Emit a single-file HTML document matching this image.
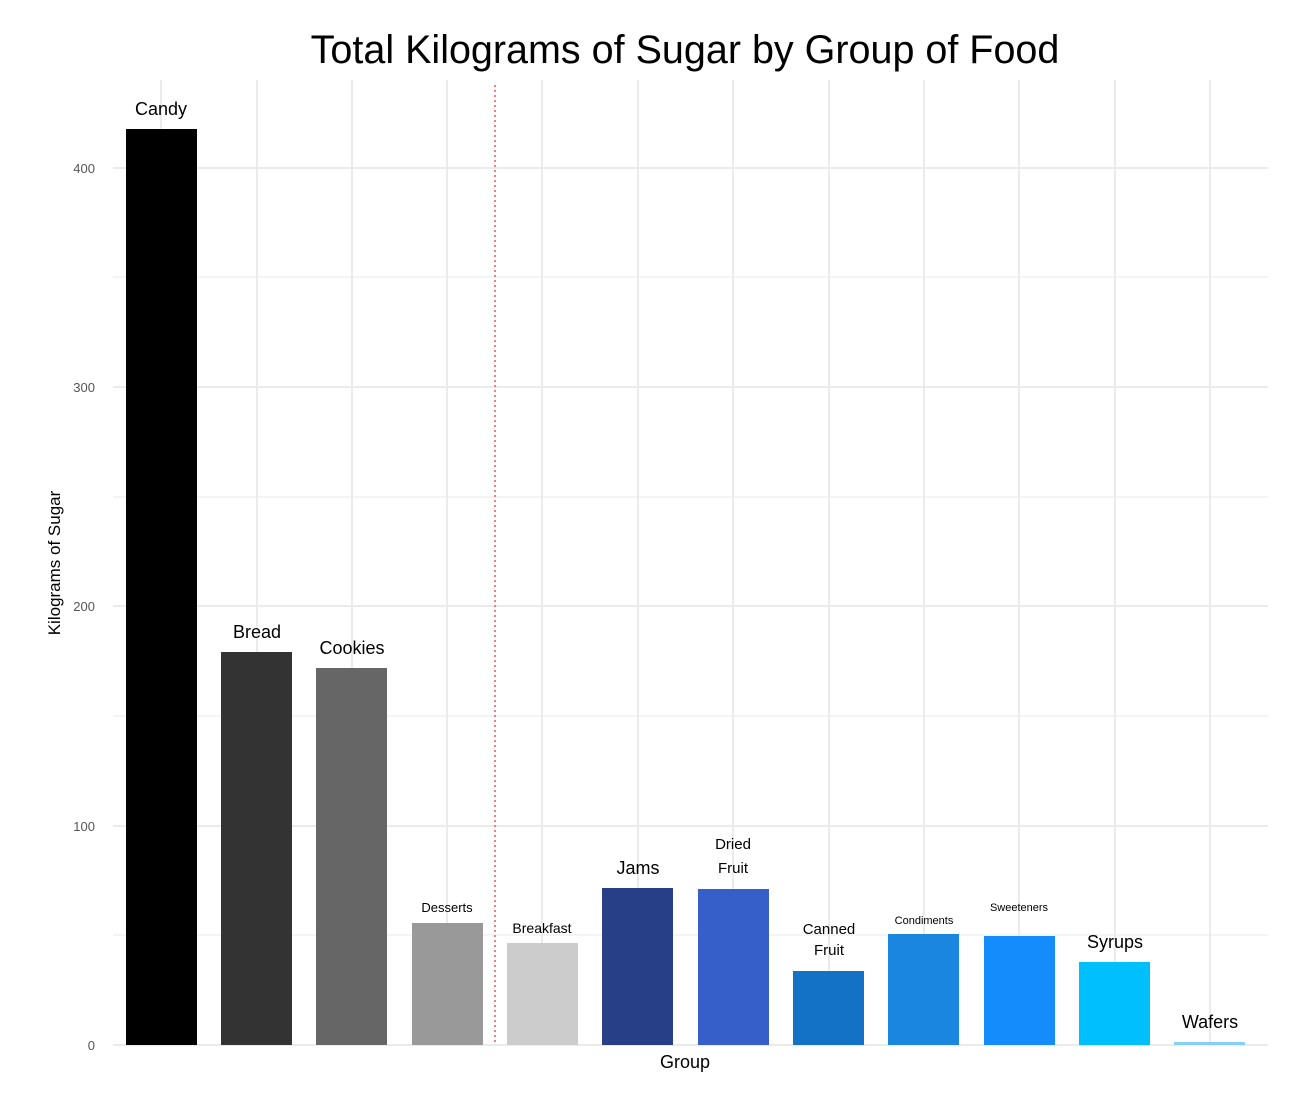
<!DOCTYPE html>
<html><head><meta charset="utf-8"><style>body{margin:0;background:#fff}</style></head><body>
<svg width="1292" height="1112" xmlns="http://www.w3.org/2000/svg" font-family="Liberation Sans, sans-serif">
<rect width="1292" height="1112" fill="#fff"/>
<g stroke="#f0f0f0" stroke-width="1.5">
<line x1="113" x2="1268" y1="277" y2="277"/><line x1="113" x2="1268" y1="497" y2="497"/><line x1="113" x2="1268" y1="716" y2="716"/><line x1="113" x2="1268" y1="935" y2="935"/>
</g>
<g stroke="#ebebeb" stroke-width="2">
<line x1="113" x2="1268" y1="168" y2="168"/><line x1="113" x2="1268" y1="387" y2="387"/><line x1="113" x2="1268" y1="606" y2="606"/><line x1="113" x2="1268" y1="826" y2="826"/><line x1="113" x2="1268" y1="1045" y2="1045"/>
<line x1="161" x2="161" y1="80" y2="1045"/><line x1="257" x2="257" y1="80" y2="1045"/><line x1="352" x2="352" y1="80" y2="1045"/><line x1="447" x2="447" y1="80" y2="1045"/><line x1="542" x2="542" y1="80" y2="1045"/><line x1="638" x2="638" y1="80" y2="1045"/><line x1="733" x2="733" y1="80" y2="1045"/><line x1="829" x2="829" y1="80" y2="1045"/><line x1="924" x2="924" y1="80" y2="1045"/><line x1="1019" x2="1019" y1="80" y2="1045"/><line x1="1115" x2="1115" y1="80" y2="1045"/><line x1="1210" x2="1210" y1="80" y2="1045"/>
</g>
<rect x="126" y="129" width="71" height="916" fill="#000"/>
<rect x="221" y="652" width="71" height="393" fill="#333"/>
<rect x="316" y="668" width="71" height="377" fill="#666"/>
<rect x="412" y="923" width="71" height="122" fill="#999"/>
<rect x="507" y="943" width="71" height="102" fill="#ccc"/>
<rect x="602" y="888" width="71" height="157" fill="#273f87"/>
<rect x="698" y="889" width="71" height="156" fill="#365fc9"/>
<rect x="793" y="971" width="71" height="74" fill="#1472c6"/>
<rect x="888" y="934" width="71" height="111" fill="#1a86e0"/>
<rect x="984" y="936" width="71" height="109" fill="#148cfb"/>
<rect x="1079" y="962" width="71" height="83" fill="#00bfff"/>
<rect x="1174" y="1042" width="71" height="3" fill="#87cefa"/>
<line x1="495" x2="495" y1="85" y2="1045" stroke="#f08080" stroke-width="2" stroke-dasharray="2,3"/>
<g fill="#000" text-anchor="middle">
<text x="161" y="115" font-size="18">Candy</text>
<text x="257" y="638" font-size="18">Bread</text>
<text x="352" y="654" font-size="18">Cookies</text>
<text x="447" y="912" font-size="13">Desserts</text>
<text x="542" y="933" font-size="14">Breakfast</text>
<text x="638" y="874" font-size="18">Jams</text>
<text x="733" y="849" font-size="15">Dried</text><text x="733" y="873" font-size="15">Fruit</text>
<text x="829" y="934" font-size="15">Canned</text><text x="829" y="955" font-size="15">Fruit</text>
<text x="924" y="924" font-size="11">Condiments</text>
<text x="1019" y="911" font-size="11">Sweeteners</text>
<text x="1115" y="948" font-size="18">Syrups</text>
<text x="1210" y="1028" font-size="18">Wafers</text>
<text x="685" y="63" font-size="39.5">Total Kilograms of Sugar by Group of Food</text>
<text x="685" y="1068" font-size="18">Group</text>
</g>
<g fill="#555" text-anchor="end" font-size="13">
<text x="95" y="173">400</text><text x="95" y="392">300</text><text x="95" y="611">200</text><text x="95" y="831">100</text><text x="95" y="1050">0</text>
</g>
<text transform="translate(60,563) rotate(-90)" text-anchor="middle" font-size="17" fill="#000">Kilograms of Sugar</text>
</svg>
</body></html>
